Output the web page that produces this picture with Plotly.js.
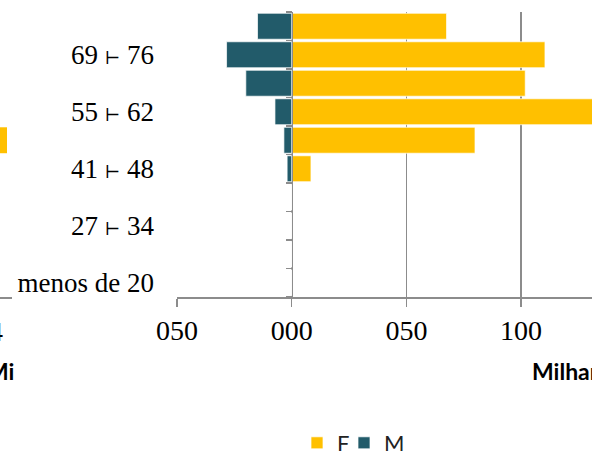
<!DOCTYPE html>
<html>
<head>
<meta charset="utf-8">
<script src="https://cdn.plot.ly/plotly-3.0.1.min.js"></script>
<style>
html,body{margin:0;padding:0;background:#fff;overflow:hidden;}
#chart{width:592px;height:452px;}
</style>
</head>
<body>
<div id="chart"></div>
<script>
// Age groups, bottom to top
const ageGroups = ['menos de 20', '20 \u22A2 27', '27 \u22A2 34', '34 \u22A2 41', '41 \u22A2 48',
                   '48 \u22A2 55', '55 \u22A2 62', '62 \u22A2 69', '69 \u22A2 76', '76 \u22A2 83'];
const labelGroups = ['menos de 20', '27 \u22A2 34', '41 \u22A2 48', '55 \u22A2 62', '69 \u22A2 76'];
// Values (thousands)
const femaleValues = [0, 0, 0, 0, 8.4, 79.9, 138, 101.8, 110.4, 67.5];
const maleValues   = [0, 0, 0, 0, -2.0, -3.4, -7.3, -20.0, -28.4, -14.9];
// x-axis ticks
const xTickVals = [-50, 0, 50, 100];
const xTickText = ['050', '000', '050', '100'];
// fragment of neighbouring chart at the left edge
const leftGroup = ['48 \u22A2 55'];
const leftFemale = [7];

const ORANGE = '#FFC000', TEAL = '#225B6A', GRID = '#8C8C8C';
const SERIF = 'Liberation Serif, DejaVu Serif, serif';
const SANS = 'Lato, Open Sans, sans-serif';

const W = 592, H = 452, TOP = 12, BOTTOM = 297;
const py = p => (BOTTOM - p) / (BOTTOM - TOP);
// labels with a smaller tack glyph
const labelText = labelGroups.map(s => s.replace('\u22A2', '<span style="font-size:18px">\u22A2</span>'));

const traces = [
  {type:'bar', orientation:'h', name:'F', y: ageGroups, x: femaleValues, legend:'legend',
   xaxis:'x', yaxis:'y', marker:{color:ORANGE, line:{color:'rgba(255,255,255,0.7)', width:1}},
   hoverinfo:'x+y'},
  {type:'bar', orientation:'h', name:'M', y: ageGroups, x: maleValues, legend:'legend2',
   xaxis:'x', yaxis:'y2', marker:{color:TEAL, line:{color:'rgba(255,255,255,0.7)', width:1}},
   hoverinfo:'x+y'},
  {type:'bar', orientation:'h', name:'F', y: leftGroup, x: leftFemale, showlegend:false,
   xaxis:'x2', yaxis:'y', marker:{color:ORANGE}, hoverinfo:'skip'}
];

const legendBase = {
  orientation:'h', xanchor:'left', y: py(443), yanchor:'middle',
  entrywidth: 30, entrywidthmode:'pixels',
  font:{family:SANS, size:22, color:'#222'}, bgcolor:'rgba(0,0,0,0)', borderwidth:0
};

const layout = {
  width: W, height: H,
  margin: {l:0, r:0, t:TOP, b:H-BOTTOM, pad:0, autoexpand:false},
  paper_bgcolor:'#fff', plot_bgcolor:'rgba(0,0,0,0)',
  bargap: 0.09,
  showlegend: true,
  xaxis: {
    domain: [177/W, 1], range: [-50, 130.9], anchor:'y',
    tickmode:'array', tickvals: xTickVals, ticktext: xTickText,
    ticks:'outside', ticklen:8, tickwidth:1.5, tickcolor:GRID,
    showline:true, linecolor:GRID, linewidth:1.5,
    showgrid:true, gridcolor:GRID, gridwidth:1.5, zeroline:false,
    tickfont:{family:SERIF, size:28, color:'#000'}, fixedrange:true
  },
  xaxis2: {
    domain: [0, 12/W], range: [0, 12], anchor:'y',
    showline:true, linecolor:GRID, linewidth:1.5,
    showgrid:false, zeroline:false, showticklabels:false, ticks:'', fixedrange:true
  },
  yaxis: {
    type:'category', categoryorder:'array', categoryarray: ageGroups, range:[-0.5, 9.5],
    tickmode:'array', tickvals: labelGroups, ticktext: labelText,
    ticks:'', showline:false, showgrid:false, zeroline:false,
    ticklabelstandoff: 22,
    tickfont:{family:SERIF, size:27, color:'#000'}, fixedrange:true
  },
  yaxis2: {
    type:'category', categoryorder:'array', categoryarray: ageGroups, range:[-0.5, 9.5],
    overlaying:'y', anchor:'free', position: 291.8/W, side:'left',
    tickmode:'linear', tick0:0, dtick:1, tickson:'boundaries',
    ticks:'outside', ticklen:6, tickwidth:1.5, tickcolor:GRID,
    showticklabels:false, showline:true, linecolor:GRID, linewidth:1.5,
    showgrid:false, zeroline:false, fixedrange:true
  },
  legend: Object.assign({}, legendBase, {x: 297/W}),
  legend2: Object.assign({}, legendBase, {x: 344/W}),
  annotations: [
    {text:'4', xref:'paper', yref:'paper', x: 5/W, y: py(331), xanchor:'right', yanchor:'middle',
     showarrow:false, font:{family:SERIF, size:28, color:'#000'}},
    {text:'<b>Mi</b>', xref:'paper', yref:'paper', x: 15.5/W, y: py(371), xanchor:'right', yanchor:'middle',
     showarrow:false, font:{family:SANS, size:23, color:'#000'}},
    {text:'<b>Milhares</b>', xref:'paper', yref:'paper', x: 530/W, y: py(371), xanchor:'left', yanchor:'middle',
     showarrow:false, font:{family:SANS, size:23, color:'#000'}}
  ]
};

Plotly.newPlot('chart', traces, layout, {displayModeBar:false, staticPlot:true});
</script>
</body>
</html>
